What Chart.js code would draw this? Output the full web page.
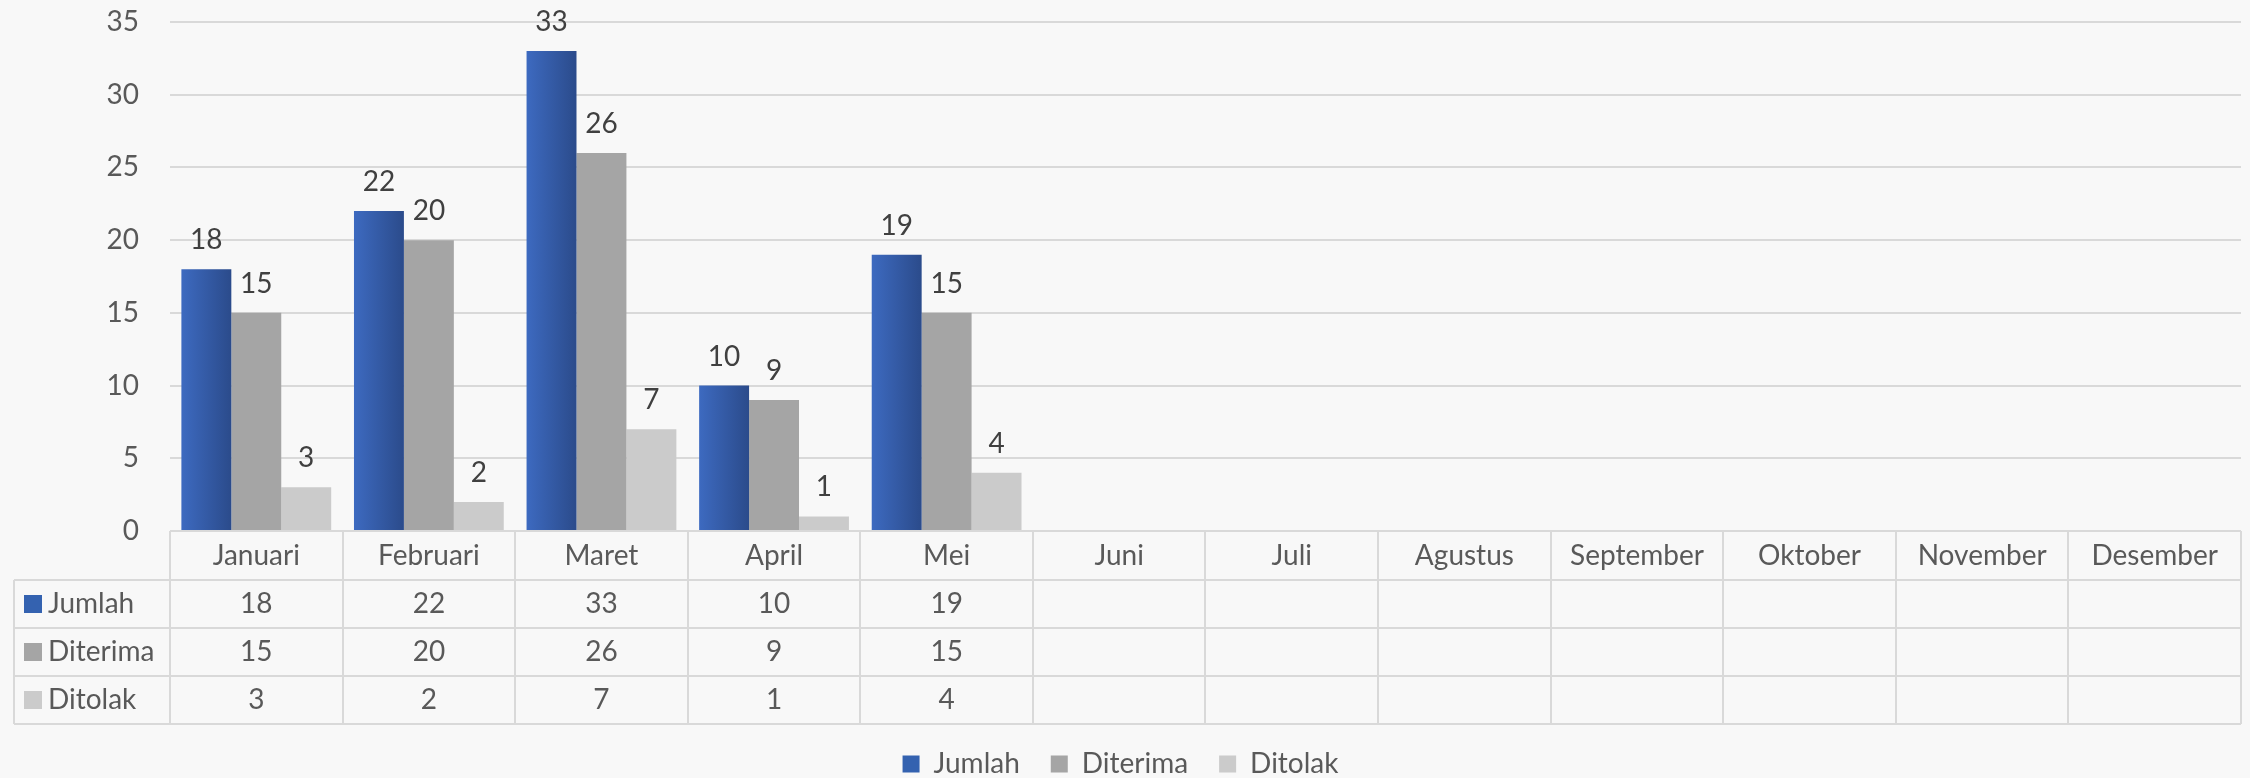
<!DOCTYPE html>
<html>
<head>
<meta charset="utf-8">
<script src="https://cdn.jsdelivr.net/npm/chart.js@4.4.1/dist/chart.umd.min.js"></script>
<style>
  html, body { margin: 0; padding: 0; background: #f8f8f8; }
  #wrap { width: 2250px; height: 778px; }
  canvas { display: block; }
</style>
</head>
<body>
<div id="wrap"><canvas id="c" width="2250" height="778"></canvas></div>
<script>
// ---- data ----
const months = ['Januari', 'Februari', 'Maret', 'April', 'Mei', 'Juni', 'Juli', 'Agustus', 'September', 'Oktober', 'November', 'Desember'];
const seriesNames = ['Jumlah', 'Diterima', 'Ditolak'];
const jumlah   = [18, 22, 33, 10, 19, null, null, null, null, null, null, null];
const diterima = [15, 20, 26, 9, 15, null, null, null, null, null, null, null];
const ditolak  = [3, 2, 7, 1, 4, null, null, null, null, null, null, null];
const yMax = 35;
const yStep = 5;

// ---- styles ----
const FONT = 'Lato, "Open Sans", "DejaVu Sans", sans-serif';
const FSIZE = 28;
const TEXT = '#595959';
const LABEL = '#404040';
const LINE = '#D9D9D9';
const COLORS = ['#3462B0', '#A5A5A5', '#CBCBCB'];
const BLUE_L = '#3D6AC0', BLUE_R = '#2B4B8B';

Chart.defaults.font.family = FONT;
Chart.defaults.font.size = FSIZE;
Chart.defaults.color = TEXT;

const bgPlugin = {
  id: 'bg',
  beforeDraw(chart) {
    const c = chart.ctx;
    c.save();
    c.fillStyle = '#F8F8F8';
    c.fillRect(0, 0, chart.width, chart.height);
    c.restore();
  }
};

const gradPlugin = {
  id: 'grad',
  beforeDatasetsDraw(chart) {
    const c = chart.ctx;
    chart.getDatasetMeta(0).data.forEach(el => {
      if (!el || el.skip) return;
      const g = c.createLinearGradient(el.x - el.width / 2, 0, el.x + el.width / 2, 0);
      g.addColorStop(0, BLUE_L);
      g.addColorStop(1, BLUE_R);
      el.options.backgroundColor = g;
    });
  }
};

const valuePlugin = {
  id: 'values',
  afterDatasetsDraw(chart) {
    const c = chart.ctx;
    c.save();
    c.font = FSIZE + 'px ' + FONT;
    c.fillStyle = LABEL;
    c.textAlign = 'center';
    c.textBaseline = 'alphabetic';
    chart.data.datasets.forEach((ds, di) => {
      chart.getDatasetMeta(di).data.forEach((el, i) => {
        const v = ds.data[i];
        if (v === null || v === undefined) return;
        c.fillText(String(v), el.x, el.y - 20);
      });
    });
    c.restore();
  }
};

const legendShift = {
  id: 'legendShift',
  afterLayout(chart) {
    const lg = chart.legend;
    if (lg) { lg.top += 10; lg.bottom += 10; }
  }
};

const tablePlugin = {
  id: 'table',
  afterDraw(chart) {
    const c = chart.ctx;
    const xs = chart.scales.x;
    const area = chart.chartArea;
    const b = Math.round(area.bottom);
    const headerH = 49, rowH = 48;
    const bottom = b + headerH + rowH * 3;
    const left0 = 14;
    const half = (xs.getPixelForValue(1) - xs.getPixelForValue(0)) / 2;
    c.save();
    c.strokeStyle = LINE;
    c.lineWidth = 2;
    c.beginPath();
    c.moveTo(area.left, b); c.lineTo(area.right, b);
    for (let r = 0; r <= 3; r++) {
      const y = b + headerH + rowH * r;
      c.moveTo(left0, y); c.lineTo(area.right, y);
    }
    c.moveTo(left0, b + headerH); c.lineTo(left0, bottom);
    for (let i = 0; i < months.length; i++) {
      const x = Math.round(xs.getPixelForValue(i) - half);
      c.moveTo(x, b); c.lineTo(x, bottom);
    }
    const xr = Math.round(xs.getPixelForValue(months.length - 1) + half);
    c.moveTo(xr, b); c.lineTo(xr, bottom);
    c.stroke();

    c.font = FSIZE + 'px ' + FONT;
    c.textBaseline = 'middle';
    chart.data.datasets.forEach((ds, di) => {
      const yc = b + headerH + rowH * di + rowH / 2;
      c.fillStyle = COLORS[di];
      c.fillRect(24, Math.round(yc - 9), 18, 18);
      c.fillStyle = TEXT;
      c.textAlign = 'left';
      c.fillText(ds.label, 48, yc);
      c.textAlign = 'center';
      ds.data.forEach((v, i) => {
        if (v === null || v === undefined) return;
        c.fillText(String(v), xs.getPixelForValue(i), yc);
      });
    });
    c.restore();
  }
};

new Chart(document.getElementById('c'), {
  type: 'bar',
  data: {
    labels: months,
    datasets: [
      { label: seriesNames[0], data: jumlah, backgroundColor: () => COLORS[0], borderWidth: 0 },
      { label: seriesNames[1], data: diterima, backgroundColor: COLORS[1], borderWidth: 0 },
      { label: seriesNames[2], data: ditolak, backgroundColor: COLORS[2], borderWidth: 0 }
    ]
  },
  options: {
    responsive: false,
    devicePixelRatio: 1,
    animation: false,
    events: [],
    layout: { padding: { top: 22, right: 9, left: 0, bottom: 0 } },
    datasets: { bar: { categoryPercentage: 0.868, barPercentage: 1.0 } },
    plugins: {
      legend: {
        position: 'bottom',
        labels: {
          boxWidth: 17, boxHeight: 17, padding: 31,
          color: TEXT,
          font: { size: FSIZE, family: FONT, lineHeight: 1 }
        }
      },
      tooltip: { enabled: false }
    },
    scales: {
      x: {
        grid: { display: false, drawTicks: false },
        border: { display: false },
        ticks: { color: TEXT, padding: 8, maxRotation: 0, autoSkip: false, font: { size: FSIZE } },
        afterFit(s) { s.height = 178; s.paddingLeft = 0; s.paddingRight = 0; }
      },
      y: {
        min: 0, max: yMax,
        grid: { color: LINE, lineWidth: 2, drawTicks: false },
        border: { display: false },
        ticks: { stepSize: yStep, color: TEXT, padding: 31, font: { size: FSIZE } },
        afterFit(s) { s.width = 170; s.paddingTop = 0; s.paddingBottom = 0; }
      }
    }
  },
  plugins: [bgPlugin, gradPlugin, valuePlugin, legendShift, tablePlugin]
});
</script>
</body>
</html>
